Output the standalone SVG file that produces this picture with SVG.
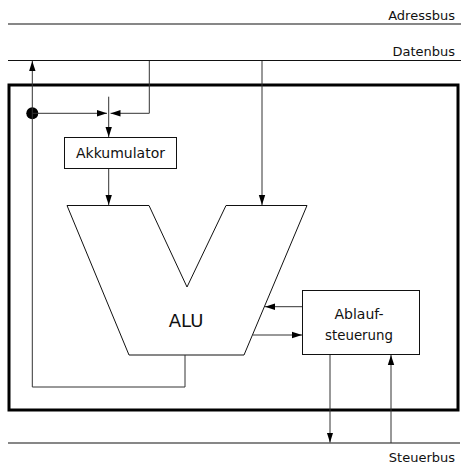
<svg xmlns="http://www.w3.org/2000/svg" width="462" height="467" viewBox="0 0 462 467">
<style>
.bus{stroke:#111;stroke-width:1.1;fill:none}
.ln{stroke:#333;stroke-width:1;fill:none}
.box{stroke:#111;stroke-width:1;fill:#fff}
.t{font-family:"DejaVu Sans",sans-serif;fill:#111}
</style>
<defs>
<marker id="ah" markerWidth="10" markerHeight="8" refX="10" refY="4" orient="auto" markerUnits="userSpaceOnUse">
<path d="M0,0.8 L10,4 L0,7.2 Z" fill="#000"/>
</marker>
</defs>
<rect x="0" y="0" width="462" height="467" fill="#fff"/>
<g id="buses">
<line class="bus" x1="8" y1="24" x2="461" y2="24"/>
<line class="bus" x1="8" y1="60.5" x2="461" y2="60.5"/>
<line class="bus" x1="8" y1="443" x2="460" y2="443"/>
<text class="t" x="455" y="19.5" font-size="13" text-anchor="end">Adressbus</text>
<text class="t" x="455" y="56" font-size="13" text-anchor="end">Datenbus</text>
<text class="t" x="455" y="462" font-size="13" text-anchor="end">Steuerbus</text>
</g>
<g id="cpu">
<rect x="9" y="85" width="449" height="325" fill="none" stroke="#000" stroke-width="3"/>
</g>
<g id="akkumulator">
<rect class="box" x="64.5" y="137.5" width="112" height="31"/>
<text class="t" x="120.5" y="158" font-size="14" text-anchor="middle">Akkumulator</text>
</g>
<g id="alu">
<path class="box" d="M67,205.5 L149,205.5 L187,287 L226,205.5 L307,205.5 L244,355 L129,355 Z"/>
<text class="t" x="186" y="327" font-size="18" text-anchor="middle">ALU</text>
</g>
<g id="ablaufsteuerung">
<rect class="box" x="302.5" y="290.5" width="117" height="64"/>
<text class="t" x="359" y="318.5" font-size="14" text-anchor="middle">Ablauf-</text>
<text class="t" x="359" y="340" font-size="14" text-anchor="middle" textLength="68" lengthAdjust="spacingAndGlyphs">steuerung</text>
</g>
<g id="connectors">
<circle cx="32.3" cy="113.3" r="6" fill="#000"/>
<path class="ln" d="M185,355 L185,387 L32.3,387 L32.3,61" marker-end="url(#ah)"/>
<path class="ln" d="M32.3,113.3 L107,113.3" marker-end="url(#ah)"/>
<path class="ln" d="M149.3,61 L149.3,113.3 L110.5,113.3" marker-end="url(#ah)"/>
<path class="ln" d="M108.7,96.7 L108.7,137" marker-end="url(#ah)"/>
<path class="ln" d="M108.7,169 L108.7,205" marker-end="url(#ah)"/>
<path class="ln" d="M262,61 L262,205" marker-end="url(#ah)"/>
<path class="ln" d="M302,306.7 L265,306.7" marker-end="url(#ah)"/>
<path class="ln" d="M253,335 L302,335" marker-end="url(#ah)"/>
<path class="ln" d="M330,355 L330,442.5" marker-end="url(#ah)"/>
<path class="ln" d="M391,443 L391,355" marker-end="url(#ah)"/>
</g>
</svg>
